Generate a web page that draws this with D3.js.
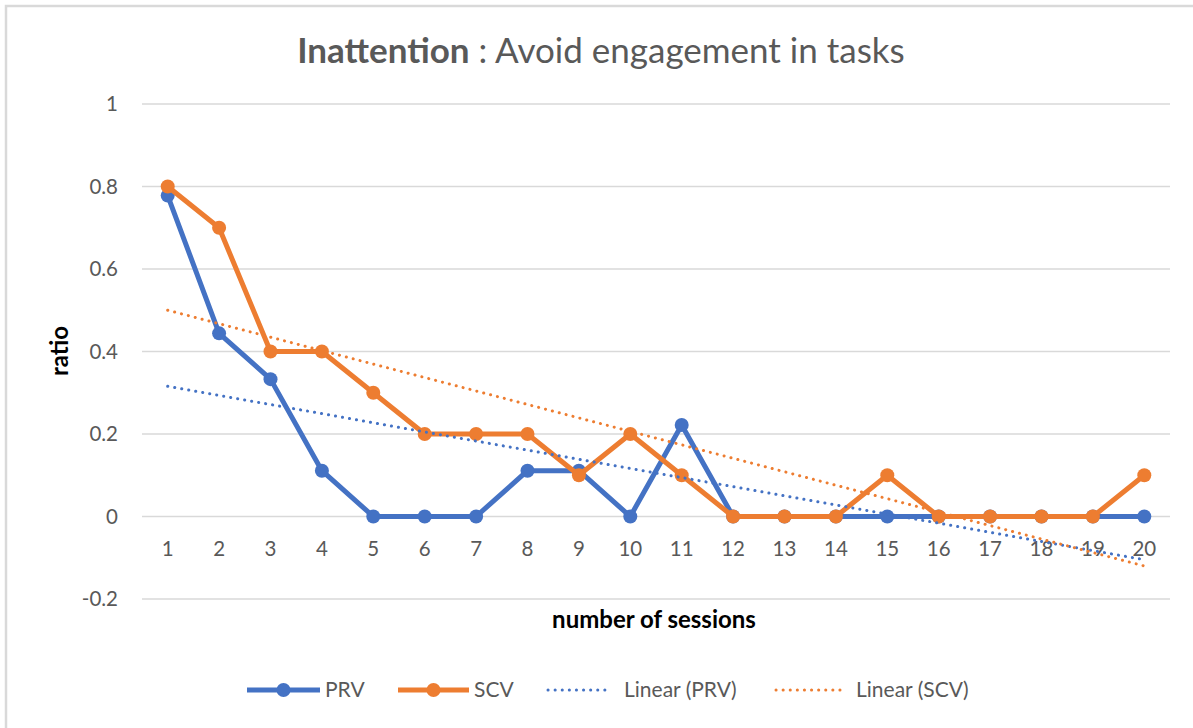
<!DOCTYPE html>
<html>
<head>
<meta charset="utf-8">
<script src="https://cdn.jsdelivr.net/npm/d3@7"></script>
<style>
  html, body { margin: 0; padding: 0; background: #fff; }
  svg { display: block; font-family: Lato, "Open Sans", sans-serif; }
</style>
</head>
<body>
<svg id="chart" width="1193" height="728"></svg>
<script>
const sessions = ['1','2','3','4','5','6','7','8','9','10','11','12','13','14','15','16','17','18','19','20'];
const prv = [0.778, 0.444, 0.333, 0.111, 0, 0, 0, 0.111, 0.111, 0, 0.222, 0, 0, 0, 0, 0, 0, 0, 0, 0];
const scv = [0.8, 0.7, 0.4, 0.4, 0.3, 0.2, 0.2, 0.2, 0.1, 0.2, 0.1, 0, 0, 0, 0.1, 0, 0, 0, 0, 0.1];
const yTicks = [-0.2, 0, 0.2, 0.4, 0.6, 0.8, 1];
const yTickLabels = ['-0.2', '0', '0.2', '0.4', '0.6', '0.8', '1'];

const blue = '#4472C4';
const orange = '#ED7D31';
const textColor = '#595959';

const svg = d3.select('#chart');

// chart frame (only top/left edges fall inside the picture)
svg.append('rect')
  .attr('x', 6).attr('y', 6)
  .attr('width', 1200).attr('height', 740)
  .attr('fill', 'none')
  .attr('stroke', '#d9d9d9')
  .attr('stroke-width', 2.5);

const x = d3.scaleBand().domain(sessions).range([142, 1170]);
const y = d3.scaleLinear().domain([-0.2, 1]).range([599, 104]);
const cx = d => x(d) + x.bandwidth() / 2;

// gridlines
svg.append('g')
  .selectAll('line')
  .data(yTicks)
  .join('line')
  .attr('x1', 142).attr('x2', 1170)
  .attr('y1', d => y(d)).attr('y2', d => y(d))
  .attr('stroke', '#d9d9d9')
  .attr('stroke-width', 1.5);

// y tick labels
svg.append('g')
  .selectAll('text')
  .data(yTicks)
  .join('text')
  .attr('x', 118)
  .attr('y', d => y(d))
  .attr('dy', '0.35em')
  .attr('text-anchor', 'end')
  .attr('font-size', 20.5)
  .attr('fill', textColor)
  .text((d, i) => yTickLabels[i]);

// x tick labels
svg.append('g')
  .selectAll('text')
  .data(sessions)
  .join('text')
  .attr('x', d => cx(d))
  .attr('y', 549)
  .attr('dy', '0.35em')
  .attr('text-anchor', 'middle')
  .attr('font-size', 20.5)
  .attr('fill', textColor)
  .text(d => d);

// linear trend (least squares over session index)
function trend(vals) {
  const n = vals.length;
  const xs = vals.map((_, i) => i + 1);
  const mx = d3.mean(xs), my = d3.mean(vals);
  let sxy = 0, sxx = 0;
  xs.forEach((xi, i) => { sxy += (xi - mx) * (vals[i] - my); sxx += (xi - mx) * (xi - mx); });
  const b = sxy / sxx, a = my - b * mx;
  return [[sessions[0], a + b * 1], [sessions[n - 1], a + b * n]];
}

const line = d3.line().x(d => cx(d[0])).y(d => y(d[1]));

function drawTrend(vals, color) {
  svg.append('path')
    .datum(trend(vals))
    .attr('d', line)
    .attr('fill', 'none')
    .attr('stroke', color)
    .attr('stroke-width', 3)
    .attr('stroke-linecap', 'round')
    .attr('stroke-dasharray', '0.1 7');
}

function drawSeries(vals, color) {
  const pts = vals.map((v, i) => [sessions[i], v]);
  svg.append('path')
    .datum(pts)
    .attr('d', line)
    .attr('fill', 'none')
    .attr('stroke', color)
    .attr('stroke-width', 5)
    .attr('stroke-linejoin', 'round');
  svg.append('g')
    .selectAll('circle')
    .data(pts)
    .join('circle')
    .attr('cx', d => cx(d[0]))
    .attr('cy', d => y(d[1]))
    .attr('r', 7)
    .attr('fill', color);
}

drawSeries(prv, blue);
drawSeries(scv, orange);
drawTrend(prv, blue);
drawTrend(scv, orange);

// title
const title = svg.append('text')
  .attr('x', 601).attr('y', 63)
  .attr('text-anchor', 'middle')
  .attr('font-size', 35)
  .attr('fill', textColor);
title.append('tspan').attr('font-weight', 'bold').text('Inattention');
title.append('tspan').text(' : Avoid engagement in tasks');

// axis titles
svg.append('text')
  .attr('x', 654).attr('y', 628)
  .attr('text-anchor', 'middle')
  .attr('font-size', 24)
  .attr('font-weight', 'bold')
  .attr('fill', '#000')
  .text('number of sessions');

svg.append('text')
  .attr('transform', 'translate(68,351) rotate(-90)')
  .attr('text-anchor', 'middle')
  .attr('font-size', 24)
  .attr('font-weight', 'bold')
  .attr('fill', '#000')
  .text('ratio');

// legend
const legendItems = [
  { label: 'PRV', color: blue, x0: 247, x1: 320, tx: 325, marker: true },
  { label: 'SCV', color: orange, x0: 398, x1: 469, tx: 474, marker: true },
  { label: 'Linear (PRV)', color: blue, x0: 548, x1: 610, tx: 624, marker: false },
  { label: 'Linear (SCV)', color: orange, x0: 776, x1: 842, tx: 856, marker: false }
];
const ly = 690;
const lg = svg.append('g');
legendItems.forEach(it => {
  lg.append('line')
    .attr('x1', it.x0).attr('x2', it.x1)
    .attr('y1', ly).attr('y2', ly)
    .attr('stroke', it.color)
    .attr('stroke-width', it.marker ? 5 : 3)
    .attr('stroke-linecap', it.marker ? 'butt' : 'round')
    .attr('stroke-dasharray', it.marker ? null : '0.1 7');
  if (it.marker) {
    lg.append('circle')
      .attr('cx', (it.x0 + it.x1) / 2).attr('cy', ly)
      .attr('r', 7).attr('fill', it.color);
  }
  lg.append('text')
    .attr('x', it.tx).attr('y', ly)
    .attr('dy', '0.35em')
    .attr('font-size', 21)
    .attr('fill', textColor)
    .text(it.label);
});
</script>
</body>
</html>
